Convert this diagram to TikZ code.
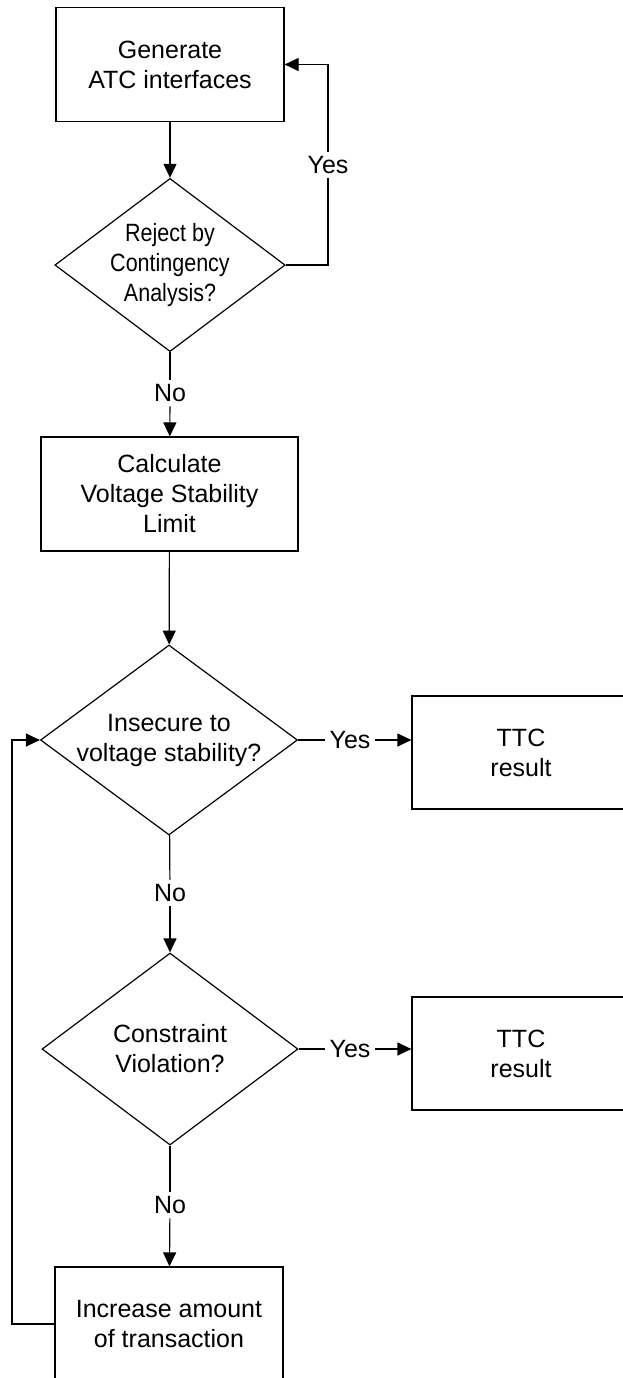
\documentclass[tikz,border=0pt]{standalone}
\usepackage{fontspec}
\setmainfont{Liberation Sans}
\usetikzlibrary{shapes.geometric,arrows.meta}

\tikzset{
  process/.style={draw, rectangle, inner sep=0pt, align=center,
    minimum width=114pt, minimum height=57pt},
  decision/.style={draw, diamond, inner sep=0pt, align=center, shape aspect=1.35},
  answer/.style={inner sep=2pt},
  line/.style={line width=0.6pt},
  arrow/.style={line, -{Triangle[length=7pt,width=6.5pt]}},
}

\begin{document}
\begin{tikzpicture}[x=0.5pt, y=-0.5pt, line width=0.6pt,
    every node/.style={font=\fontsize{12.5}{15}\selectfont}]
      \useasboundingbox (0,0) rectangle (622,1378);

      % main column
      \node[process] (gen) at (170,64.5) {Generate\\ATC interfaces};
      \node[decision, minimum width=113pt, minimum height=85pt, shape aspect=1.33,
            font=\fontsize{12.5}{15}\selectfont\addfontfeature{FakeStretch=0.86}]
            (rej) at (170,265) {Reject by\\Contingency\\Analysis?};
      \node[answer] (no1) at (170,393) {No};
      \node[process, minimum width=128.5pt] (calc) at (169.5,494) {Calculate\\Voltage Stability\\Limit};
      \node[decision, minimum width=128.5pt, minimum height=95pt] (insec) at (169,740) {Insecure to\\voltage stability?};
      \node[answer] (no2) at (170,893) {No};
      \node[decision, minimum width=128pt, minimum height=96pt] (viol) at (170,1049) {Constraint\\Violation?};
      \node[answer] (no3) at (170,1205) {No};
      \node[process] (inc) at (169,1324) {Increase amount\\of transaction};

      % side branches
      \node[answer] (yes1) at (328,165) {Yes};
      \node[answer] (yes2) at (350,740) {Yes};
      \node[answer] (yes3) at (350,1049) {Yes};
      \node[process, minimum width=109pt, minimum height=56.5pt] (ttc1) at (521,752.5) {TTC\\result};
      \node[process, minimum width=109pt, minimum height=56.5pt] (ttc2) at (521,1053.5) {TTC\\result};
      \coordinate (back) at (12,740);

      \draw[arrow] (gen) -- (rej);
      \draw[line] (rej.east) -| (yes1);
      \draw[arrow] (yes1) |- (gen.east);
      \draw[line] (rej) -- (no1);
      \draw[arrow] (no1) -- (calc);
      \draw[arrow] (calc) -- (insec);
      \draw[line] (insec) -- (yes2);
      \draw[arrow] (yes2) -- (yes2 -| ttc1.west);
      \draw[line] (insec) -- (no2);
      \draw[arrow] (no2) -- (viol);
      \draw[line] (viol) -- (yes3);
      \draw[arrow] (yes3) -- (yes3 -| ttc2.west);
      \draw[line] (viol) -- (no3);
      \draw[arrow] (no3) -- (inc);
      \draw[arrow] (inc.west) -| (back) -- (insec.west);
\end{tikzpicture}
\end{document}
